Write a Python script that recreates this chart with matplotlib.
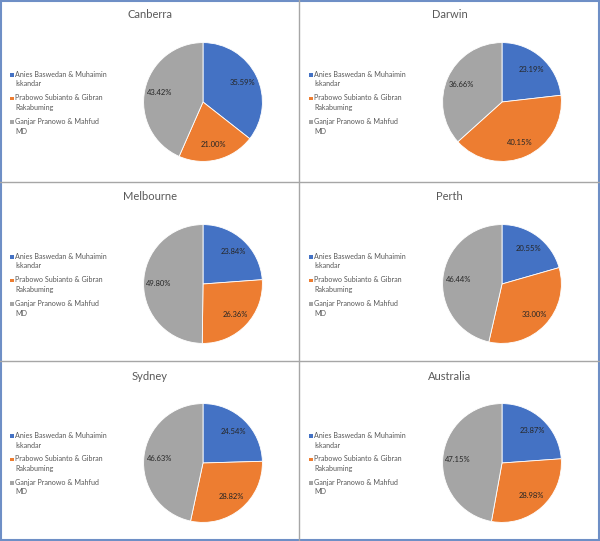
import matplotlib
matplotlib.use("Agg")
import matplotlib.pyplot as plt
from matplotlib.patches import Rectangle
from matplotlib.lines import Line2D

plt.rcParams['font.family'] = ['Lato', 'DejaVu Sans']

regions = ["Canberra", "Darwin", "Melbourne", "Perth", "Sydney", "Australia"]
candidates = ["Anies Baswedan & Muhaimin\nIskandar",
              "Prabowo Subianto & Gibran\nRakabuming",
              "Ganjar Pranowo & Mahfud\nMD"]
anies = [35.59, 23.19, 23.84, 20.55, 24.54, 23.87]
prabowo = [21.00, 40.15, 26.36, 33.00, 28.82, 28.98]
ganjar = [43.42, 36.66, 49.80, 46.44, 46.63, 47.15]
colors = ["#4472C4", "#ED7D31", "#A5A5A5"]

W, H = 600, 541
fig = plt.figure(figsize=(W / 100, H / 100), dpi=100)
fig.patch.set_facecolor("white")

col_edges = [0, 299, 600]
row_edges = [0, 182, 361, 541]

def fx(px):
    return px / W

def fy(py):
    return 1 - py / H

for i, name in enumerate(regions):
    r, c = divmod(i, 2)
    x0, x1 = col_edges[c], col_edges[c + 1]
    y0, y1 = row_edges[r], row_edges[r + 1]
    pw, ph = x1 - x0, y1 - y0
    # panel axes in pixel units
    pax = fig.add_axes([fx(x0), fy(y1), pw / W, ph / H])
    pax.set_xlim(0, pw)
    pax.set_ylim(ph, 0)
    pax.axis("off")
    pax.text(pw / 2, 15, name, ha="center", va="center", fontsize=8, color="#595959")
    # legend
    for k, lab in enumerate(candidates):
        ly = 75 + 23.5 * k
        pax.add_patch(Rectangle((10, ly - 2), 3.5, 3.5, facecolor=colors[k], edgecolor="none"))
        pax.text(15, ly - 4.2, lab, ha="left", va="top", fontsize=5.1,
                 color="#595959", linespacing=1.45)
    # pie
    cx, cy, rad = x0 + 203, y0 + 102, 60
    ax = fig.add_axes([fx(cx - rad), fy(cy + rad), 2 * rad / W, 2 * rad / H])
    vals = [anies[i], prabowo[i], ganjar[i]]
    wedges, texts, autotexts = ax.pie(vals, colors=colors, startangle=90, counterclock=False,
                                      autopct="%.2f%%", pctdistance=0.74,
                                      wedgeprops=dict(edgecolor="white", linewidth=0.6))
    for t, v in zip(autotexts, vals):
        t.set_text(f"{v:.2f}%")
        t.set_fontsize(5.5)
        t.set_color("#262626")
    ax.set_xlim(-1.01, 1.01)
    ax.set_ylim(-1.01, 1.01)
    ax.set_aspect("equal")

# dividers
div = "#A6A6A6"
fig.add_artist(Line2D([fx(299), fx(299)], [0, 1], color=div, lw=1))
for yy in (182, 361):
    fig.add_artist(Line2D([0, 1], [fy(yy), fy(yy)], color=div, lw=1))
fig.add_artist(Rectangle((0.001, 0.001), 0.998, 0.998, transform=fig.transFigure,
                         fill=False, edgecolor="#6E8FC6", lw=1.5))

fig.savefig("out.png", dpi=100)
